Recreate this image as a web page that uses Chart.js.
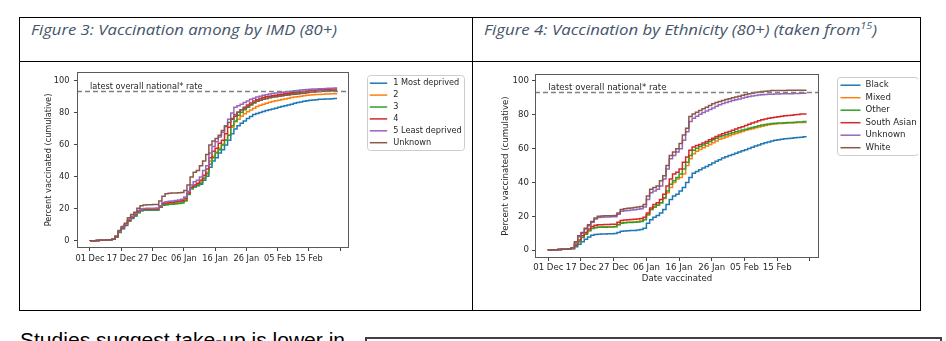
<!DOCTYPE html>
<html>
<head>
<meta charset="utf-8">
<script src="https://cdn.jsdelivr.net/npm/chart.js@4.4.0/dist/chart.umd.min.js"></script>
<style>
  body { margin: 0; width: 946px; height: 341px; overflow: hidden; position: relative; background: #fff; }
  .rule { position: absolute; background: #000; }
  .cap { position: absolute; top: 23px; font: italic 14px "Open Sans"; line-height: 1; color: #44546a; white-space: nowrap; transform-origin: left top; }
  .cap sup { font-size: 9px; vertical-align: 6px; line-height: 0; }
  #bodyText { position: absolute; left: 20px; top: 331px; font: 19.5px "Liberation Sans"; line-height: 1; color: #000; white-space: nowrap; transform-origin: left top; }
  #sideBox { position: absolute; left: 365px; top: 337px; width: 573px; height: 20px; border: 2px solid #404040; }
  canvas { position: absolute; }
</style>
</head>
<body>
<div class="rule" style="left:19px;top:17px;width:902px;height:1px"></div>
<div class="rule" style="left:19px;top:61px;width:902px;height:1px"></div>
<div class="rule" style="left:19px;top:310px;width:902px;height:1px"></div>
<div class="rule" style="left:19px;top:17px;width:1px;height:294px"></div>
<div class="rule" style="left:472px;top:17px;width:1px;height:294px"></div>
<div class="rule" style="left:920px;top:17px;width:1px;height:294px"></div>

<div class="cap" id="cap3" style="left:31px">Figure 3: Vaccination among by IMD (80+)</div>
<div class="cap" id="cap4" style="left:484px">Figure 4: Vaccination by Ethnicity (80+) (taken from<sup>15</sup>)</div>

<canvas id="imdChart" width="450" height="246" style="left:20px;top:62px;width:450px;height:246px"></canvas>
<canvas id="ethChart" width="444" height="246" style="left:474px;top:62px;width:444px;height:246px"></canvas>

<div id="bodyText">Studies suggest take-up is lower in</div>
<div id="sideBox"></div>

<script>
// tick labels on the day axis (one every 10 days, last one blank)
const dateTicks = ['01 Dec', '17 Dec', '27 Dec', '06 Jan', '16 Jan', '26 Jan', '05 Feb', '15 Feb', ''];
const nationalRate = 93.7;
const rateLabel = 'latest overall national* rate';
const yTitle = 'Percent vaccinated (cumulative)';

// Figure 3 - IMD quintiles, cumulative % by day
const imdNames = ['1 Most deprived', '2', '3', '4', '5 Least deprived', 'Unknown'];
const imd1 = [0,0.1,0.2,0.3,0.4,0.5,0.6,0.8,1,2.4,
  5.3,7.6,9.6,12.3,14.1,15.6,17.6,18.9,19.2,19.3,
  19.3,19.4,19.4,21,22.5,22.8,23,23.2,23.4,23.6,
  24,25.5,29.5,33,33.8,34.5,35.5,38,40.5,46,
  50,52,55,57,60,63,67,70,72,73.5,
  75,76.5,77.8,79,79.7,80.3,80.9,81.5,82,82.5,
  83,83.5,84,84.5,85,85.5,86,86.5,86.9,87.3,
  87.6,87.9,88.1,88.3,88.5,88.6,88.7,88.8,88.9,89];
const imd2 = [0,0.1,0.2,0.3,0.4,0.5,0.6,0.8,1,2.6,
  5.7,8,10,12.8,14.6,16.1,18.1,19.3,19.5,19.6,
  19.7,19.7,19.8,21.3,22.9,23.3,23.5,23.7,23.9,24.1,
  24.4,25.6,29.5,33,34.5,35.3,36.8,40,43,50,
  53,55.5,58,60.5,63,66,71,74.5,76,78,
  79.5,80.7,81.8,83,84,84.8,85.5,86.1,86.7,87.2,
  87.6,88,88.4,88.8,89.2,89.6,89.9,90.2,90.5,90.8,
  91,91.2,91.4,91.5,91.6,91.7,91.8,91.9,92,92];
const imd3 = [0,0.1,0.2,0.3,0.4,0.5,0.6,0.8,1,2.5,
  5.5,7.8,9.8,12.5,14.3,15.8,17.8,19,19.2,19.2,
  19.3,19.3,19.4,21,22.3,22.7,22.9,23,23.2,23.4,
  23.7,25,29,32.5,34,35,36,39,42,48,
  52,55,57,60,63,66,72,75,78.5,80.5,
  82,83.5,85,86.3,87.3,88,88.6,89.1,89.6,90,
  90.3,90.6,90.9,91.2,91.5,91.8,92.1,92.4,92.6,92.8,
  93,93.2,93.3,93.5,93.6,93.7,93.8,93.9,94,94];
const imd4 = [0,0.1,0.2,0.3,0.4,0.5,0.6,0.8,1,2.8,
  6,8.2,10.2,13,15,16.5,18.5,19.6,19.8,19.9,
  20,20,20.1,21.5,23.3,23.8,24,24.2,24.5,24.8,
  25.2,26.5,30,33.5,35,36,38,41,45,52,
  56,58,61,63,67,71,76,78,80.5,82,
  83.5,85,86.3,87.5,88.3,89,89.6,90.1,90.5,90.8,
  91.1,91.4,91.7,92,92.3,92.6,92.9,93.1,93.3,93.5,
  93.7,93.9,94.1,94.3,94.5,94.6,94.7,94.8,94.9,95];
const imd5 = [0,0.1,0.2,0.3,0.4,0.5,0.6,0.8,1,3,
  6,8.5,10.5,13.5,15.5,17,19,20,20.3,20.4,
  20.5,20.5,20.6,22,24,24.5,24.8,25,25.3,25.6,
  26,27.5,31,35,37,38,40,44,47,55,
  59,62,65,68,72,76,80,83.5,84.5,85.5,
  86.5,87.5,88.5,89.2,90,90.5,91,91.4,91.8,92.1,
  92.4,92.6,92.9,93.1,93.3,93.6,93.9,94.1,94.3,94.5,
  94.6,94.8,94.9,95,95.1,95.2,95.3,95.4,95.5,95.6];
const imdUnknown = [0,0.1,0.2,0.3,0.4,0.5,0.6,0.8,1,3,
  6.5,9,11,14.5,16.5,18,20.5,22,22.5,22.6,
  22.7,22.8,22.8,25,28,29.5,29.8,30,30,30.2,
  30.3,31.5,35,40,43,44,47,50,54,60,
  62.5,64,66,69,71.5,74,76.5,79,80.5,82,
  83,84,85.3,86.5,87.3,88,88.6,89.1,89.5,89.9,
  90.2,90.5,90.8,91,91.2,91.5,91.7,91.9,92.1,92.3,
  92.7,92.9,93.1,93.3,93.4,93.6,93.7,93.8,93.9,94];

// Figure 4 - ethnicity, cumulative % by day
const ethNames = ['Black', 'Mixed', 'Other', 'South Asian', 'Unknown', 'White'];
const ethBlack = [0,0.1,0.2,0.3,0.4,0.5,0.6,0.7,0.8,2,
  3.5,5,6.5,7.8,8.8,9.3,9.5,9.6,9.6,9.7,
  9.7,9.8,10.5,11.2,11.4,11.5,11.6,11.7,11.9,12.2,
  13,16,18,19.5,20.5,22,24,27,30,32,
  33,35,37,40,43,45.5,46.5,47.5,48.5,49.5,
  50.5,51.5,52.5,53.5,54.5,55.2,55.9,56.6,57.3,58,
  58.7,59.4,60.1,60.8,61.5,62.2,62.9,63.5,64,64.5,
  64.9,65.2,65.5,65.8,66,66.2,66.4,66.6,66.8,67];
const ethMixed = [0,0.1,0.2,0.3,0.4,0.5,0.6,0.7,1,3,
  5.2,7.7,9.7,11.7,13,13.5,13.7,13.8,13.8,13.9,
  13.9,14,15.2,16.2,16.4,16.5,16.6,16.7,16.9,17.2,
  18.2,21,24,25.5,26.5,28,30.5,34,37,40,
  42,43,45,50,54,57,58.5,59.5,60.5,61.5,
  62.5,63.5,64.5,65.5,66.2,66.9,67.6,68.3,69,69.6,
  70.2,70.8,71.3,71.8,72.3,72.8,73.3,73.7,74.1,74.4,
  74.6,74.8,74.9,75,75.1,75.2,75.3,75.4,75.5,75.5];
const ethOther = [0,0.1,0.2,0.3,0.4,0.5,0.6,0.7,1,3,
  5,7.5,9.5,11.5,12.8,13.3,13.5,13.6,13.6,13.7,
  13.7,13.8,15,16,16.2,16.3,16.4,16.5,16.7,17,
  18,21,24,25.5,26.5,28,31,35,39,41,
  43,45,48,52,56,59,60.3,61.3,62.2,63.2,
  64.2,65.2,66.2,67,67.6,68.2,68.8,69.4,70,70.5,
  71,71.5,72,72.5,73,73.5,73.9,74.2,74.5,74.8,
  75,75.1,75.2,75.3,75.4,75.5,75.6,75.7,75.8,76];
const ethSouthAsian = [0,0.1,0.2,0.3,0.4,0.5,0.6,0.7,1.2,3.5,
  6,8.5,10.5,12.5,14,14.8,15,15.1,15.2,15.2,
  15.3,15.4,16.5,17.5,17.8,18,18.1,18.3,18.5,18.8,
  19.5,22,25,27,28,30,33,38,42,45,
  46,48,52,55,59,61,61.8,62.5,63.3,64.2,
  65.2,66.2,67.2,68,68.8,69.5,70.2,70.9,71.6,72.3,
  73,73.7,74.4,75.1,75.8,76.5,77,77.5,77.9,78.3,
  78.6,78.9,79.2,79.4,79.6,79.8,80,80.2,80.4,80.5];
const ethUnknown = [0,0.1,0.2,0.3,0.4,0.5,0.6,0.8,1.3,4.5,
  8,10,12.5,14.5,16.5,18.5,19.3,19.5,19.6,19.6,
  19.7,19.8,21.2,23,23.3,23.5,23.7,23.9,24.2,24.5,
  25.5,30,34,35,36,38,42,48,54,56,
  58,60,65,70,76,78,79.2,80.3,81.3,82.3,
  83.2,84,85,86,86.6,87.2,87.8,88.4,88.9,89.4,
  89.9,90.4,90.8,91.1,91.4,91.7,91.9,92,92.1,92.2,
  92.3,92.3,92.4,92.4,92.5,92.5,92.6,92.6,92.7,92.8];
const ethWhite = [0,0.1,0.2,0.3,0.4,0.5,0.6,0.8,1.5,5,
  8.5,10.5,13,15,17,19,20,20.2,20.3,20.3,
  20.4,20.5,22,24,24.5,24.8,25,25.2,25.5,25.8,
  27,32,36,37,38,41,44,50,56,58,
  60,63,68,72,79,80.5,81.5,82.5,83.5,84.5,
  85.5,86.5,87.2,87.8,88.4,89,89.5,90,90.5,91,
  91.5,92,92.4,92.8,93.2,93.5,93.7,93.9,94.1,94.3,
  94.3,94.4,94.4,94.4,94.5,94.5,94.5,94.5,94.5,94.5];

// matplotlib tab10
const tab10 = ['#1f77b4', '#ff7f0e', '#2ca02c', '#d62728', '#9467bd', '#8c564b'];
const textColor = '#262626';

// dashed national line + label, axes frame and boxed legend (matplotlib look)
const figureDecor = {
  id: 'figureDecor',
  afterDatasetsDraw(chart, args, o) {
    const { ctx, chartArea: a, scales: { x, y } } = chart;
    ctx.save();
    const ry = Math.round(y.getPixelForValue(o.rate)) + 0.5;
    ctx.strokeStyle = '#808080';
    ctx.lineWidth = 1.3;
    ctx.setLineDash([5, 3]);
    ctx.beginPath();
    ctx.moveTo(a.left, ry);
    ctx.lineTo(a.right, ry);
    ctx.stroke();
    ctx.setLineDash([]);
    ctx.font = o.fontSize + 'px "DejaVu Sans"';
    ctx.fillStyle = textColor;
    ctx.textBaseline = 'alphabetic';
    ctx.fillText(o.label, x.getPixelForValue(0), ry - 2.5);

    ctx.strokeStyle = '#5a5a5a';
    ctx.lineWidth = 1;
    ctx.strokeRect(Math.round(a.left) + 0.5, Math.round(a.top) + 0.5, Math.round(a.width) - 1, Math.round(a.height) - 1);

    const lg = o.legend;
    const bx = Math.round(a.right + lg.gap) + 0.5, by = Math.round(a.top + lg.top) + 0.5;
    ctx.beginPath();
    ctx.roundRect(bx, by, lg.w, lg.h, 3);
    ctx.fillStyle = 'rgba(255,255,255,0.8)';
    ctx.fill();
    ctx.strokeStyle = '#cccccc';
    ctx.stroke();
    ctx.textBaseline = 'middle';
    chart.data.datasets.forEach((ds, i) => {
      const ly = by + lg.rowTop + i * lg.rowH;
      ctx.strokeStyle = ds.borderColor;
      ctx.lineWidth = 1.5;
      ctx.beginPath();
      ctx.moveTo(bx + lg.handleX, ly);
      ctx.lineTo(bx + lg.handleX + lg.handleLen, ly);
      ctx.stroke();
      ctx.fillStyle = textColor;
      ctx.fillText(ds.label, bx + lg.textX, ly);
    });
    ctx.restore();
  }
};

function buildChart(id, names, series, s) {
  const font = { family: 'DejaVu Sans', size: s.fontSize };
  const grid = { display: true, drawOnChartArea: false, drawTicks: true, tickLength: 3, color: '#444' };
  return new Chart(document.getElementById(id), {
    type: 'line',
    data: {
      datasets: series.map((vals, i) => ({
        label: names[i],
        data: vals.map((v, d) => ({ x: d, y: v })),
        borderColor: tab10[i],
        borderWidth: 1.5,
        pointRadius: 0,
        stepped: 'after',
        fill: false,
        order: names.length - i
      }))
    },
    options: {
      responsive: false,
      animation: false,
      devicePixelRatio: 1,
      layout: { padding: s.padding },
      plugins: {
        legend: { display: false },
        tooltip: { enabled: false },
        figureDecor: { rate: nationalRate, label: rateLabel, fontSize: s.fontSize, legend: s.legend }
      },
      scales: {
        x: {
          type: 'linear',
          min: s.xMin, max: s.xMax,
          afterFit: sc => { sc.height = s.xHeight; },
          grid: grid,
          border: { display: false },
          ticks: {
            stepSize: 10, autoSkip: false, maxRotation: 0, includeBounds: false,
            padding: s.xPad, font: font, color: textColor,
            callback: v => dateTicks[Math.round(v / 10)] ?? ''
          },
          title: { display: !!s.xTitle, text: s.xTitle || '', font: font, color: textColor, padding: 0 }
        },
        y: {
          min: s.yMin, max: s.yMax,
          afterFit: sc => { sc.width = s.yWidth; },
          grid: grid,
          border: { display: false },
          ticks: { stepSize: 20, includeBounds: false, padding: s.yPad, font: font, color: textColor },
          title: { display: true, text: yTitle, font: font, color: textColor, padding: 0 }
        }
      }
    },
    plugins: [figureDecor]
  });
}

buildChart('imdChart', imdNames, [imd1, imd2, imd3, imd4, imd5, imdUnknown], {
  fontSize: 8.2,
  padding: { left: 24, top: 10, right: 121, bottom: 40 },
  yWidth: 33, xHeight: 20, xPad: 2.5, yPad: 4.5,
  xMin: -4.15, xMax: 82.8, yMin: -4.4, yMax: 105.6,
  legend: { gap: 18, top: 3, w: 97, h: 75, rowTop: 7.7, rowH: 11.9, handleX: 2.3, handleLen: 17.4, textX: 25.7 }
});

buildChart('ethChart', ethNames, [ethBlack, ethMixed, ethOther, ethSouthAsian, ethUnknown, ethWhite], {
  fontSize: 8.6,
  padding: { left: 27, top: 12, right: 99, bottom: 24 },
  yWidth: 34, xHeight: 26, xPad: 2, yPad: 3,
  xMin: -4.07, xMax: 82.8, yMin: -4.6, yMax: 104.1,
  xTitle: 'Date vaccinated',
  legend: { gap: 18, top: 3, w: 81, h: 78, rowTop: 7.7, rowH: 12.5, handleX: 3, handleLen: 20, textX: 28 }
});

// squeeze the document text to the widths it has in the page
function fitWidth(id, w) {
  const el = document.getElementById(id);
  el.style.transform = 'scaleX(' + (w / el.getBoundingClientRect().width) + ')';
}
fitWidth('cap3', 306);
fitWidth('cap4', 393);
fitWidth('bodyText', 325);
</script>
</body>
</html>
